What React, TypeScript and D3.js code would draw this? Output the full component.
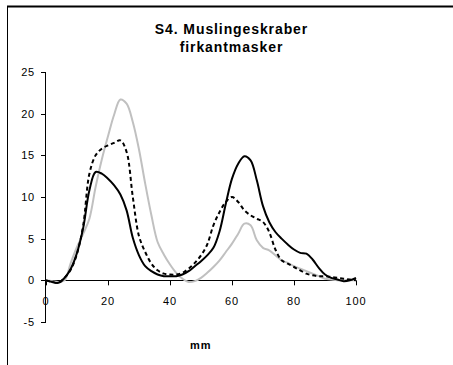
import React from "react";
import * as d3 from "d3";

const mm = [0,2,4,6,8,10,12,14,16,18,20,22,24,26,28,30,32,34,36,38,40,42,44,46,48,50,52,54,56,58,60,62,64,66,68,70,72,74,76,78,80,82,84,86,88,90,92,94,96,98,100];
const solidSeries = [0,-0.2,-0.3,0.3,1.4,3.3,6.3,10.8,13.0,12.8,12.2,11.4,10.3,8.4,5.1,3.0,1.7,1.1,0.7,0.5,0.5,0.5,0.7,1.1,1.7,2.3,3.0,3.9,5.9,9.2,12.2,14.0,14.9,14.4,12.0,8.9,7.0,5.8,5.0,4.3,3.7,3.3,3.2,2.5,1.5,0.7,0.3,0.1,-0.1,0.0,0.3];
const dashedSeries = [0,-0.2,-0.3,0.3,1.3,3.2,6.6,12.8,15.0,15.8,16.2,16.5,16.8,15.4,10.0,5.3,3.4,2.0,1.2,0.8,0.7,0.7,0.9,1.4,2.1,3.0,4.3,6.6,8.2,9.4,10.0,9.4,8.4,7.8,7.4,7.0,5.8,3.7,2.4,2.0,1.6,1.2,0.8,0.6,0.5,0.5,0.4,0.3,0.2,0.1,0.0];
const graySeries = [0,-0.1,-0.2,0.0,2.1,4.0,5.6,7.4,11.2,14.5,17.3,19.9,21.7,21.2,19.0,15.7,11.6,7.8,4.6,3.1,1.9,0.9,0.2,-0.2,-0.1,0.3,0.9,1.6,2.4,3.4,4.4,5.6,6.8,6.6,4.8,3.9,3.6,3.0,2.4,2.1,1.7,1.4,1.1,0.8,0.5,0.2,0.1,0.0,0.0,0.0,0.0];
const xTicks = [0,20,40,60,80,100];
const yTicks = [-5,0,5,10,15,20,25];
const titleLines = ["S4. Muslingeskraber", "firkantmasker"];
const xLabel = "mm";

export default function App() {
  const x = d3.scaleLinear().domain([0, 100]).range([46, 356]);
  const y = d3.scaleLinear().domain([-5, 25]).range([322, 72]);
  const line = (vals: number[]) =>
    d3.line<number>()
      .x((_, i) => x(mm[i]))
      .y((v) => y(v))
      .curve(d3.curveCatmullRom.alpha(0.5))(vals) || "";
  const font = "'Liberation Sans', Arial, sans-serif";
  return (
    <svg width={453} height={365} style={{ position: "absolute", left: 0, top: 0, background: "#fff" }} fontFamily={font}>
      <rect x={0} y={0} width={453} height={365} fill="#fff" />
      <line x1={7} y1={6.5} x2={453} y2={6.5} stroke="#000" strokeWidth={2} />
      <line x1={7.5} y1={6} x2={7.5} y2={365} stroke="#000" strokeWidth={1} />
      <text x={231.5} y={34.3} textAnchor="middle" fontSize={14} fontWeight="bold" letterSpacing={0.9}>{titleLines[0]}</text>
      <text x={231.5} y={51.5} textAnchor="middle" fontSize={14} fontWeight="bold" letterSpacing={0.9}>{titleLines[1]}</text>
      {/* y axis */}
      <line x1={45.5} y1={y(25)} x2={45.5} y2={y(-5)} stroke="#000" strokeWidth={1} />
      {yTicks.map((t) => (
        <g key={"y" + t}>
          <line x1={41} x2={46} y1={Math.round(y(t)) + 0.5} y2={Math.round(y(t)) + 0.5} stroke="#000" />
          <text x={35} y={y(t) + 4} textAnchor="end" fontSize={11} letterSpacing={0.8}>{t}</text>
        </g>
      ))}
      {/* x axis */}
      <line x1={x(0)} y1={Math.round(y(0)) + 0.5} x2={x(100)} y2={Math.round(y(0)) + 0.5} stroke="#000" strokeWidth={1} />
      {xTicks.map((t) => (
        <g key={"x" + t}>
          <line x1={Math.round(x(t)) + 0.5} x2={Math.round(x(t)) + 0.5} y1={y(0)} y2={y(0) + 5} stroke="#000" />
          <text x={x(t)} y={305} textAnchor="middle" fontSize={11} letterSpacing={0.8}>{t}</text>
        </g>
      ))}
      <text x={200.7} y={349} textAnchor="middle" fontSize={11} fontWeight="bold" letterSpacing={0.8}>{xLabel}</text>
      {/* series */}
      <path d={line(graySeries)} fill="none" stroke="#c0c0c0" strokeWidth={2} />
      <path d={line(dashedSeries)} fill="none" stroke="#000" strokeWidth={2} strokeDasharray="4,3" />
      <path d={line(solidSeries)} fill="none" stroke="#000" strokeWidth={2} />
    </svg>
  );
}
